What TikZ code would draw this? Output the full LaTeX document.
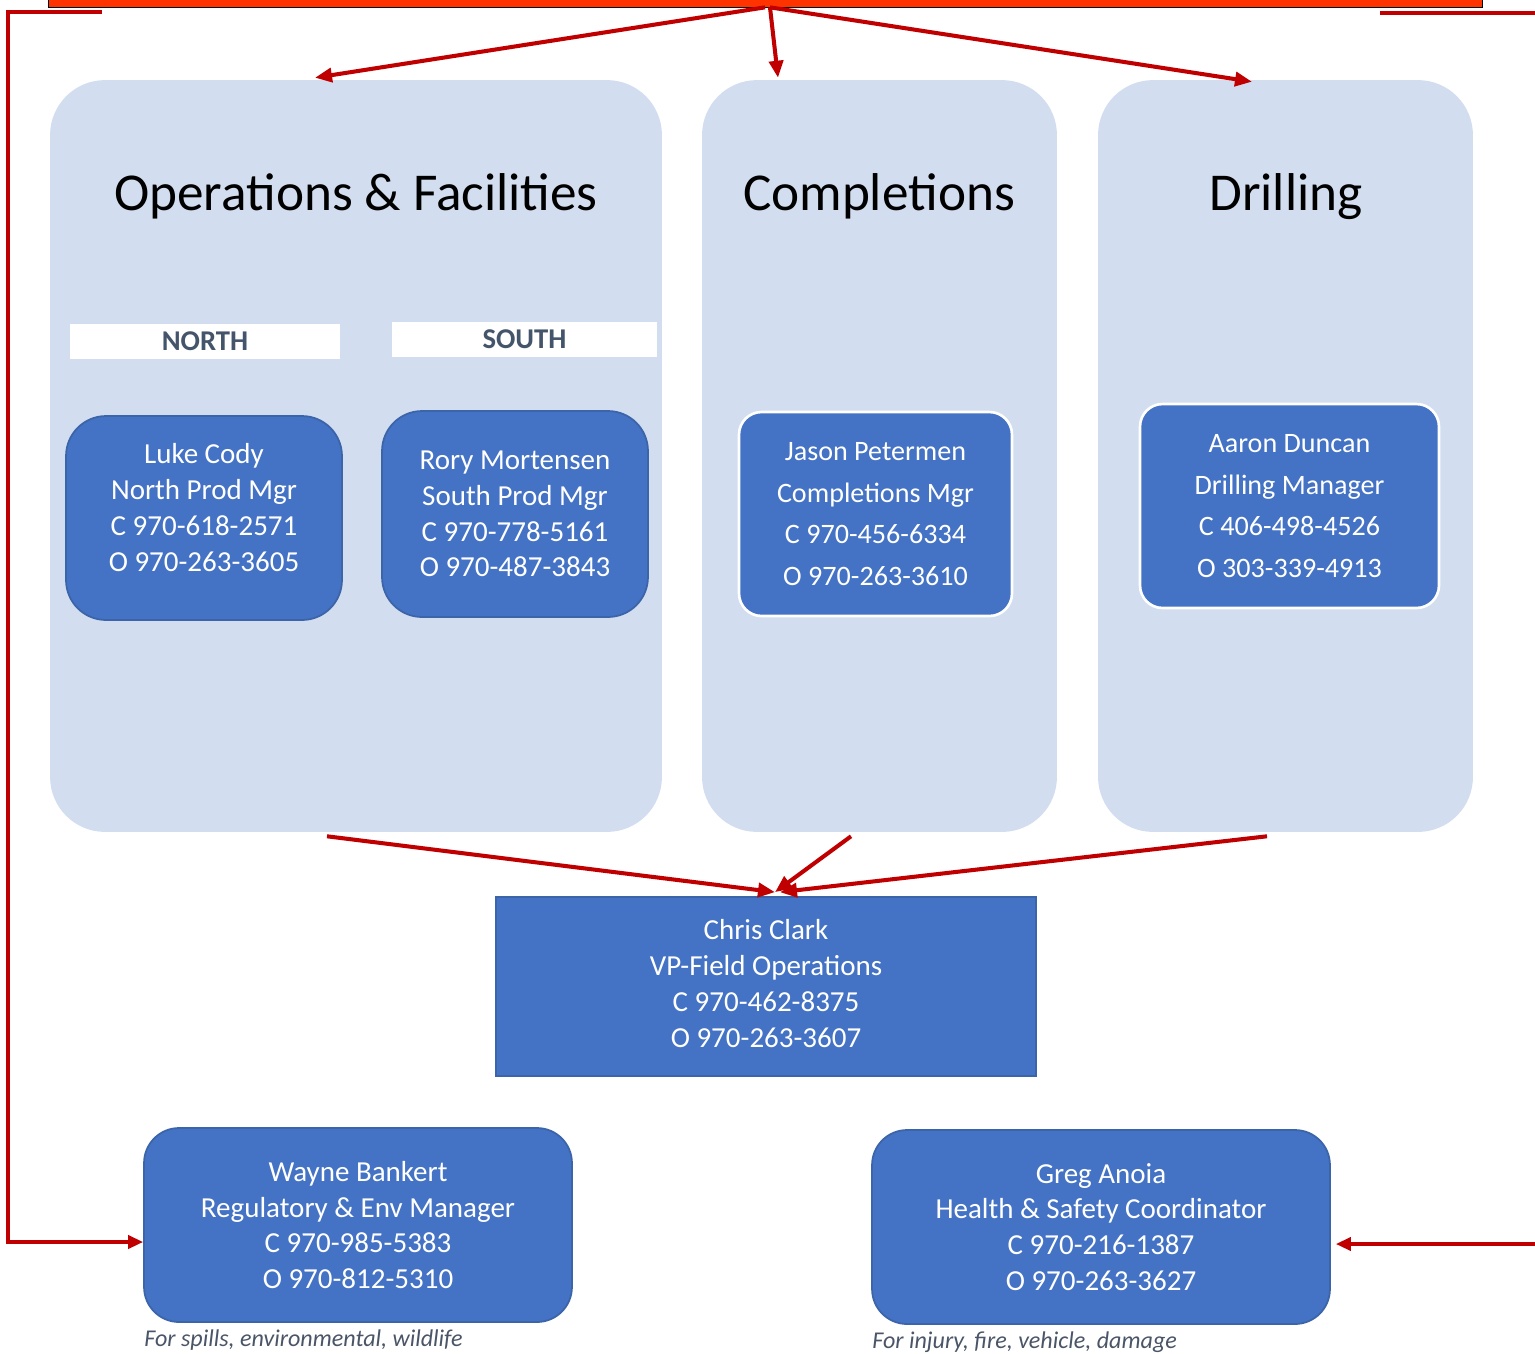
\documentclass[tikz,border=0pt]{standalone}
\usepackage{fontspec}
\setmainfont{Carlito}
\usetikzlibrary{arrows.meta}

\definecolor{panelblue}{HTML}{D2DEEF}
\definecolor{boxblue}{HTML}{4472C4}
\definecolor{boxedge}{HTML}{3C64A8}
\definecolor{linered}{HTML}{C00000}
\definecolor{barred}{HTML}{FF3300}
\definecolor{zonetext}{HTML}{44546A}
\definecolor{notegray}{HTML}{4A5568}

\begin{document}
\begin{tikzpicture}[x=0.02cm, y=-0.02cm,
        panel/.style={fill=panelblue, rounded corners=1.1cm, inner sep=0pt, minimum height=15.04cm},
        heading/.style={anchor=base, font=\fontsize{30.3}{36}\selectfont},
        zone/.style={fill=white, inner sep=0pt, minimum height=0.7cm, text=zonetext,
            font=\fontsize{16.3}{20}\selectfont\bfseries},
        person/.style={fill=boxblue, draw=boxedge, line width=1pt, rounded corners=0.8cm, inner sep=0pt,
            text=white, align=center, font=\fontsize{16.5}{20.4}\selectfont},
        manager/.style={person, draw=white, line width=1.5pt, rounded corners=0.45cm,
            font=\fontsize{16}{23.8}\selectfont},
        note/.style={anchor=base west, inner sep=0pt, text=notegray, font=\fontsize{13.7}{16}\selectfont\itshape},
        feed/.style={draw=linered, line width=2.3pt, -{Triangle[length=0.34cm, width=0.28cm]}},
        sideline/.style={draw=linered, line width=2pt, -{Triangle[length=0.3cm, width=0.26cm]}}]

        \useasboundingbox (0,0) rectangle (1535,1353);

        \node[draw=black, fill=barred, inner sep=0pt, minimum width=28.68cm, minimum height=0.6cm]
            (bar) at (765,-8) {};

        \node[panel, minimum width=12.24cm] (ops) at (356,456) {};
        \node[panel, minimum width=7.1cm] (comp) at (879.5,456) {};
        \node[panel, minimum width=7.5cm] (drill) at (1285.5,456) {};

        \node[heading] (opstitle) at (356,210) {Operations \& Facilities};
        \node[heading] (comptitle) at (879,210) {Completions};
        \node[heading] (drilltitle) at (1286,210) {Drilling};

        \node[zone, minimum width=5.4cm] (north) at (205,341.5) {NORTH};
        \node[zone, minimum width=5.3cm] (south) at (524.5,339.5) {SOUTH};

        \node[person, minimum width=5.52cm, minimum height=4.08cm] (luke) at (204,518)
            {\raisebox{0pt}[0pt][0pt]{\begin{tabular}{@{}c@{}}Luke Cody\\North Prod Mgr\\C 970-618-2571\\O 970-263-3605\end{tabular}}};
        \node[person, minimum width=5.32cm, minimum height=4.12cm] (rory) at (515,514)
            {Rory Mortensen\\South Prod Mgr\\C 970-778-5161\\O 970-487-3843};
        \node[manager, minimum width=5.46cm, minimum height=4.08cm] (jason) at (875.5,514)
            {Jason Petermen\\Completions Mgr\\C 970-456-6334\\O 970-263-3610};
        \node[manager, minimum width=5.98cm, minimum height=4.08cm] (aaron) at (1289.5,506)
            {Aaron Duncan\\Drilling Manager\\C 406-498-4526\\O 303-339-4913};

        \node[person, rounded corners=0pt, minimum width=10.8cm, minimum height=3.58cm] (chris) at (766,986.5)
            {\begin{tabular}{@{}c@{}}Chris Clark\\VP-Field Operations\\C 970-462-8375\\O 970-263-3607\end{tabular}};

        \node[person, rounded corners=0.7cm, minimum width=8.56cm, minimum height=3.88cm] (wayne) at (358,1225)
            {Wayne Bankert\\Regulatory \& Env Manager\\C 970-985-5383\\O 970-812-5310};
        \node[person, rounded corners=0.7cm, minimum width=9.16cm, minimum height=3.88cm] (greg) at (1101,1227)
            {Greg Anoia\\Health \& Safety Coordinator\\C 970-216-1387\\O 970-263-3627};

        \node[note] (waynenote) at (144,1346) {For spills, environmental, wildlife};
        \node[note] (gregnote) at (872,1348) {For injury, fire, vehicle, damage};

        \draw[feed] (bar.south) -- ([shift={(-0.82cm,0.04cm)}]ops.north);
        \draw[feed] ([xshift=0.1cm]bar.south) -- ([shift={(-2.03cm,0.04cm)}]comp.north);
        \draw[feed] ([xshift=0.1cm]bar.south) -- ([shift={(-0.67cm,-0.04cm)}]drill.north);

        \draw[feed] ([shift={(-0.58cm,-0.08cm)}]ops.south) -- ([shift={(0.18cm,0.08cm)}]chris.north);
        \draw[feed] ([shift={(-0.57cm,-0.08cm)}]comp.south) -- ([shift={(0.18cm,0.08cm)}]chris.north);
        \draw[feed] ([shift={(-0.37cm,-0.08cm)}]drill.south) -- ([shift={(0.28cm,0.08cm)}]chris.north);

        \coordinate (lefttop) at (102,12);
        \coordinate (leftturn) at (8,12);
        \coordinate (righttop) at (1380,13);
        \coordinate (rightturn) at (1560,13);

        \draw[sideline] (lefttop) -- (leftturn) |- ([yshift=-0.34cm]wayne.west);
        \draw[sideline] (righttop) -- (rightturn) |- ([shift={(0.1cm,-0.34cm)}]greg.east);

    \end{tikzpicture}
\end{document}
